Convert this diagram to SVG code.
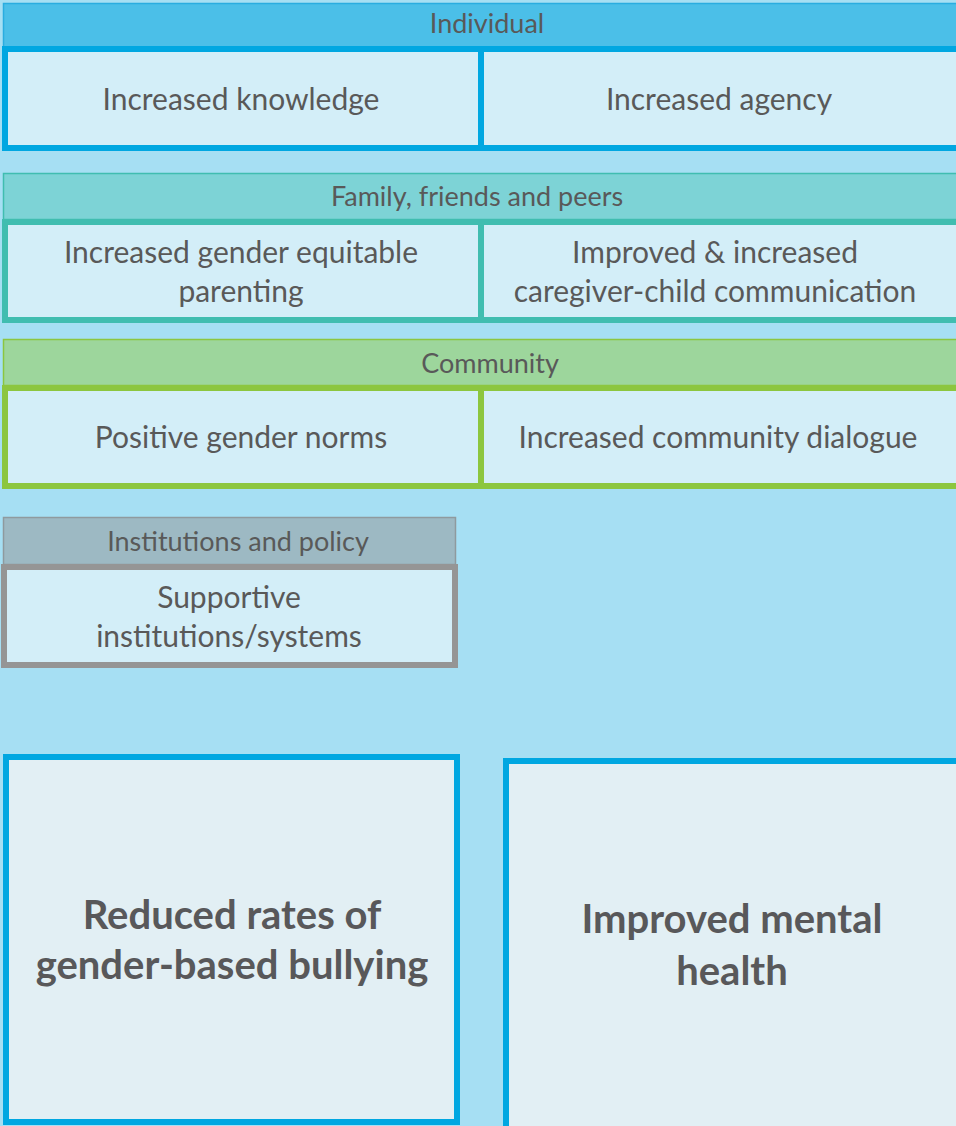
<svg xmlns="http://www.w3.org/2000/svg" width="956" height="1126" viewBox="0 0 956 1126">
  <style>
    text { font-family: Lato, "Open Sans", "Liberation Sans", sans-serif; fill: #595959; text-anchor: middle; }
    .hdr { font-size: 27px; }
    .lbl { font-size: 30px; }
    .big { font-size: 40px; font-weight: bold; fill: #58585a; }
    .box { fill: #D3EEF8; stroke-width: 6; }
    .outcome { fill: #E2EFF4; stroke: #00A7E1; stroke-width: 6; }
  </style>
  <rect width="956" height="1126" fill="#A6DFF3"/>

  <!-- Individual level -->
  <g id="individual">
    <rect x="3.5" y="3.5" width="960" height="44" fill="#4BBFE8" stroke="#2AADE0" stroke-width="1.5"/>
    <text class="hdr" x="487" y="33">Individual</text>
    <rect class="box" x="5" y="49" width="476" height="99" stroke="#00A7E1"/>
    <rect class="box" x="481" y="49" width="478" height="99" stroke="#00A7E1"/>
    <text class="lbl" x="241" y="110">Increased knowledge</text>
    <text class="lbl" x="719" y="110">Increased agency</text>
  </g>

  <!-- Family, friends and peers level -->
  <g id="family">
    <rect x="3.5" y="173.5" width="960" height="46" fill="#7DD3D6" stroke="#40BDB0" stroke-width="1.5"/>
    <text class="hdr" x="477" y="206">Family, friends and peers</text>
    <rect class="box" x="5" y="222" width="476" height="98" stroke="#40BDB0"/>
    <rect class="box" x="481" y="222" width="478" height="98" stroke="#40BDB0"/>
    <text class="lbl" x="241" y="263">Increased gender equitable</text>
    <text class="lbl" x="241" y="302">parenting</text>
    <text class="lbl" x="715" y="263">Improved &amp; increased</text>
    <text class="lbl" x="715" y="302">caregiver-child communication</text>
  </g>

  <!-- Community level -->
  <g id="community">
    <rect x="3.5" y="339.5" width="960" height="46" fill="#9DD69C" stroke="#8CC63F" stroke-width="1.5"/>
    <text class="hdr" x="490" y="373">Community</text>
    <rect class="box" x="5" y="388" width="476" height="98" stroke="#8CC63F"/>
    <rect class="box" x="481" y="388" width="478" height="98" stroke="#8CC63F"/>
    <text class="lbl" x="241" y="448">Positive gender norms</text>
    <text class="lbl" x="718" y="448">Increased community dialogue</text>
  </g>

  <!-- Institutions and policy level -->
  <g id="institutions">
    <rect x="3.5" y="517.5" width="452" height="47" fill="#9DB9C3" stroke="#8F9A9E" stroke-width="1.5"/>
    <text class="hdr" x="238" y="551">Institutions and policy</text>
    <rect class="box" x="4" y="567" width="451" height="98" stroke="#959595" stroke-width="5"/>
    <text class="lbl" x="229" y="608">Supportive</text>
    <text class="lbl" x="229" y="647">institutions/systems</text>
  </g>

  <!-- Outcomes -->
  <g id="outcome-bullying">
    <rect class="outcome" x="6" y="757" width="451" height="365"/>
    <text class="big" x="232" y="929">Reduced rates of</text>
    <text class="big" x="232" y="979">gender-based bullying</text>
  </g>
  <g id="outcome-mental-health">
    <rect class="outcome" x="506" y="761" width="456" height="370"/>
    <text class="big" x="732" y="933">Improved mental</text>
    <text class="big" x="732" y="985">health</text>
  </g>

  <g id="connectors"></g>
</svg>
